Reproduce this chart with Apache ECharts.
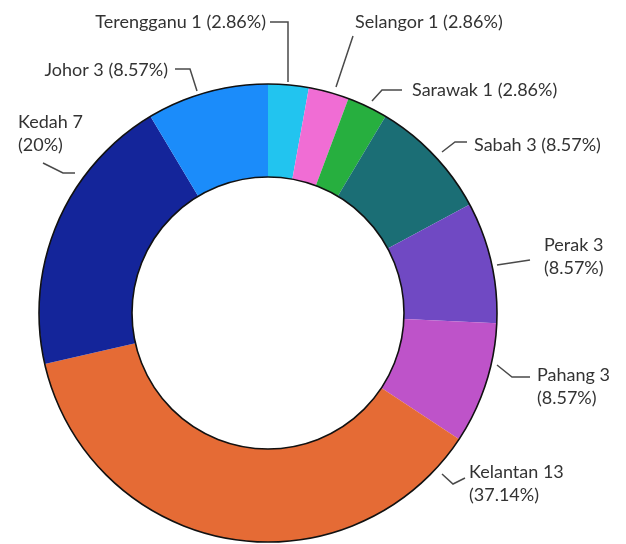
<!DOCTYPE html>
<html>
<head>
<meta charset="utf-8">
<script src="https://cdn.jsdelivr.net/npm/echarts@6/dist/echarts.min.js"></script>
<style>
html,body{margin:0;padding:0;background:#fff;}
#chart{width:626px;height:544px;}
</style>
</head>
<body>
<div id="chart"></div>
<script>
// ---- data ----
const states = ['Terengganu', 'Selangor', 'Sarawak', 'Sabah', 'Perak', 'Pahang', 'Kelantan', 'Kedah', 'Johor'];
const counts = [1, 1, 1, 3, 3, 3, 13, 7, 3];
const twoLineLabels = ['Perak', 'Pahang', 'Kelantan', 'Kedah'];

// ---- style ----
const colors = ['#22C4EF', '#F06DD4', '#27AF3F', '#1B6E75', '#7049C3', '#BE53C9', '#E56B35', '#14259A', '#1B8CFA'];
// label anchor and leader line points (styling only)
const labelPlaces = [
  {x: 266, y: 22, align: 'right', line: [[288, 82], [288, 22], [270, 22]]},
  {x: 355, y: 22, align: 'left', line: [[336, 87], [353, 36]]},
  {x: 412, y: 90, align: 'left', line: [[372, 101], [382, 90], [402, 90]]},
  {x: 474, y: 145, align: 'left', line: [[442, 152], [455, 142], [467, 142]]},
  {x: 544, y: 257, align: 'left', line: [[497, 265], [530, 260]]},
  {x: 537, y: 387, align: 'left', line: [[497, 365], [512, 377], [530, 377]]},
  {x: 469, y: 484, align: 'left', line: [[442, 474], [453, 484], [465, 478]]},
  {x: 18, y: 134, align: 'left', line: [[43, 163], [63, 173], [75, 173]]},
  {x: 168, y: 70, align: 'right', line: [[197, 91], [190, 69], [175, 69]]}
];

const pieData = states.map((s, i) => ({
  name: s,
  value: counts[i],
  itemStyle: {color: colors[i]}
}));

const chart = echarts.init(document.getElementById('chart'));
chart.setOption({
  backgroundColor: '#ffffff',
  animation: false,
  series: [
    {
      type: 'pie',
      center: [268, 313],
      radius: [136, 229],
      startAngle: 90,
      clockwise: true,
      avoidLabelOverlap: false,
      data: pieData,
      itemStyle: {borderWidth: 0},
      emphasis: {disabled: true},
      label: {
        show: true,
        position: 'outside',
        fontFamily: 'Lato',
        fontSize: 18,
        color: '#333333',
        lineHeight: 23,
        formatter: function (p) {
          const sep = twoLineLabels.indexOf(p.name) >= 0 ? '\n' : ' ';
          return p.name + ' ' + p.value + sep + '(' + p.percent + '%)';
        }
      },
      labelLine: {
        show: true,
        lineStyle: {color: '#4a4a4a', width: 1.5}
      },
      labelLayout: function (params) {
        const pl = labelPlaces[params.dataIndex];
        return {
          x: pl.x,
          y: pl.y,
          align: pl.align,
          verticalAlign: 'middle',
          labelLinePoints: pl.line
        };
      }
    },
    {
      type: 'pie',
      center: [268, 313],
      radius: [136, 229],
      silent: true,
      z: 5,
      data: [{value: 1, name: 'outline'}],
      itemStyle: {color: 'rgba(0,0,0,0)', borderColor: '#111111', borderWidth: 1.6},
      label: {show: false},
      labelLine: {show: false},
      emphasis: {disabled: true}
    }
  ]
});
</script>
</body>
</html>
